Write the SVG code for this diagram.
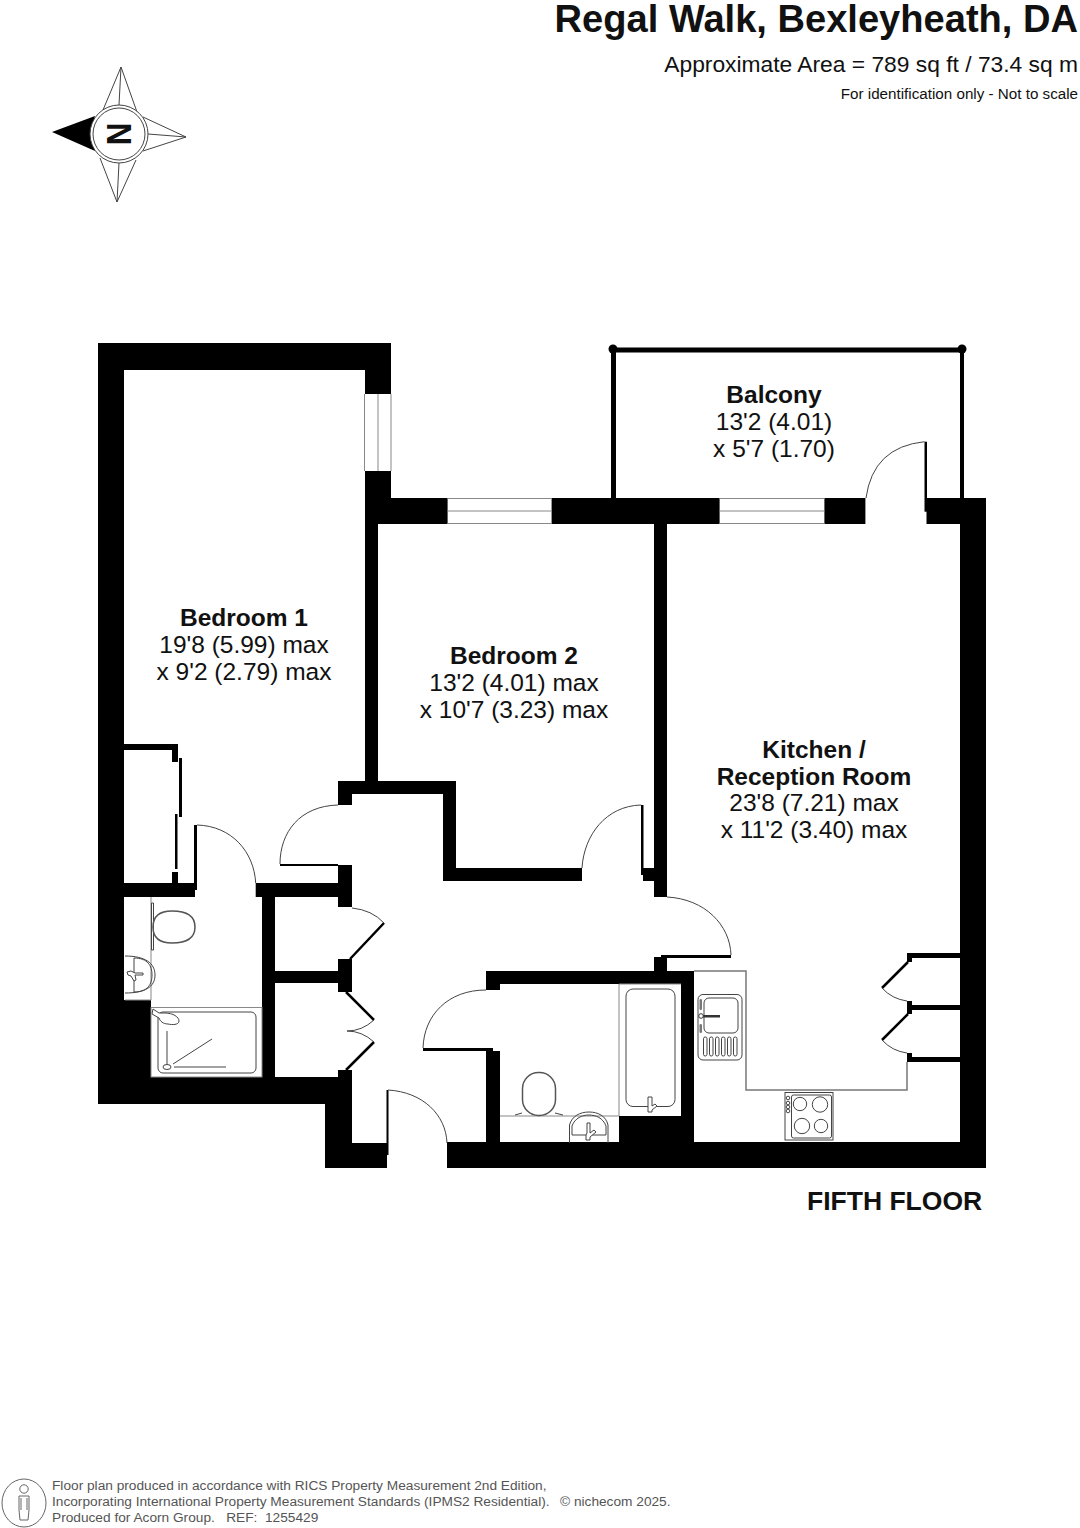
<svg xmlns="http://www.w3.org/2000/svg" width="1080" height="1528" viewBox="0 0 1080 1528">
<style>
.t{font-family:"Liberation Sans",Arial,sans-serif;fill:#111}
.b{font-weight:700}
.m{text-anchor:middle;font-size:24.500px}
.r{text-anchor:end}
.f{font-size:13.700px;fill:#555;white-space:pre}
.w{fill:#000}
.l{fill:none;stroke:#444;stroke-width:1}
.v{fill:none;stroke:#888;stroke-width:1}
.h{fill:none;stroke:#000;stroke-width:2.500}
.g{fill:none;stroke:#555;stroke-width:1.500}
.s{fill:#fff;stroke:#444;stroke-width:1}
</style>
<rect width="1080" height="1528" fill="#fff"/>
<g id="header">
<text class="t b r" x="1078" y="32" font-size="38.100">Regal Walk, Bexleyheath, DA</text>
<text class="t r" x="1078" y="72" font-size="22.800">Approximate Area = 789 sq ft / 73.4 sq m</text>
<text class="t r" x="1078" y="99" font-size="15.200">For identification only - Not to scale</text>
</g>
<g id="compass">
<path class="l" d="M103 110L121 67L137 112M143 117L186 137L143 151M136 160L117 202L100 158M121 67L119 105M186 137L148 134M117 202L119 163"/>
<path class="w" d="M52 132L95 116L90 134L95 151Z"/>
<circle cx="119" cy="134" r="29" fill="#fff" stroke="#444"/>
<circle cx="119" cy="134" r="26" fill="#fff" stroke="#444"/>
<text class="t b" text-anchor="middle" font-size="35" transform="translate(130.500 134) rotate(-90) scale(0.9 1)" x="0" y="0" fill="#000">N</text>
</g>
<g id="walls" class="w">
<rect x="98" y="343" width="293" height="27"/>
<rect x="98" y="343" width="26" height="761"/>
<rect x="365" y="343" width="26" height="51"/>
<rect x="365" y="471" width="26" height="53"/>
<rect x="365" y="498" width="82.600" height="26"/>
<rect x="551.600" y="498" width="168" height="26"/>
<rect x="824.400" y="498" width="41" height="26"/>
<rect x="926.500" y="498" width="59.500" height="26"/>
<rect x="960" y="498" width="26" height="670"/>
<rect x="447" y="1142" width="539" height="26"/>
<rect x="654" y="524" width="13" height="373"/>
<rect x="365" y="524" width="13" height="257"/>
<rect x="338" y="781" width="118" height="13"/>
<rect x="338" y="781" width="14" height="24"/>
<rect x="443" y="781" width="13" height="100"/>
<rect x="443" y="868" width="139" height="13"/>
<rect x="643" y="868" width="11" height="13"/>
<rect x="338" y="865" width="14" height="42"/>
<rect x="255.700" y="883" width="82.300" height="14"/>
<rect x="124" y="883" width="71" height="14"/>
<rect x="262" y="897" width="13" height="181"/>
<rect x="275" y="971" width="63" height="12"/>
<rect x="338" y="959" width="14" height="33"/>
<rect x="338" y="1070" width="14" height="35"/>
<rect x="98" y="1077" width="254" height="27"/>
<rect x="325" y="1100" width="27" height="68"/>
<rect x="325" y="1143" width="62" height="25"/>
<rect x="124" y="1000" width="27" height="77"/>
<rect x="486" y="971" width="208" height="13"/>
<rect x="654" y="957" width="13" height="14"/>
<rect x="486" y="984" width="14" height="6"/>
<rect x="486" y="1051" width="14" height="92"/>
<rect x="681" y="984" width="13" height="159"/>
<rect x="619" y="1116" width="62" height="27"/>
<rect x="124" y="744" width="54" height="6"/>
<rect x="172" y="750" width="6" height="12"/>
<rect x="172" y="872" width="6" height="11"/>
<rect x="907" y="953" width="53" height="5"/>
<rect x="907" y="953" width="5" height="9"/>
<rect x="907" y="1001" width="5" height="13"/>
<rect x="907" y="1005" width="53" height="5"/>
<rect x="907" y="1053" width="5" height="9"/>
<rect x="907" y="1057" width="53" height="5"/>
</g>
<g id="windows">
<path class="v" d="M364.500 394V471M378 394V471M391 394V471M447.600 498.500H551.600M447.600 511H551.600M447.600 523.500H551.600M719.600 498.500H824.400M719.600 511H824.400M719.600 523.500H824.400"/>
</g>
<g id="balcony">
<rect class="w" x="611" y="347.500" width="352" height="5"/>
<rect class="w" x="611" y="348" width="5" height="150"/>
<rect class="w" x="960" y="348" width="4" height="150"/>
<circle class="w" cx="613" cy="349" r="4.500"/>
<circle class="w" cx="962" cy="349" r="4.500"/>
</g>
<g id="doors">
<g class="w">
<rect x="924.500" y="441.700" width="2.500" height="70"/>
<rect x="194" y="825" width="3" height="65"/>
<rect x="280" y="864" width="58" height="2"/>
<rect x="641" y="805" width="2.500" height="70"/>
<rect x="667" y="955" width="64" height="3"/>
<rect x="661" y="955" width="6" height="5"/>
<rect x="423" y="1048" width="70" height="3"/>
<rect x="386.500" y="1090" width="2" height="65"/>
<rect x="179" y="758" width="3" height="59"/>
<rect x="175" y="814" width="2.500" height="55"/>
</g>
<path class="h" d="M384 923L350 959M346 992L374 1020M374 1042L346 1070M908 962L882 988M908 1014L882 1040"/>
<path class="l" d="M924.500 441.700Q873 447 866 498M197 825C232 826 254 852 255.700 883M338 805C300 806 280 832 280 864M641 805C606 806 584 835 582 868M667 897C705 899 730 925 731 955M486 990C448 990 424 1015 423 1048M388 1090C423 1092 446 1115 447 1143M352 908Q372 910 384 923M374 1020Q362 1031 347 1031Q362 1031 374 1042M882 988Q892 999 907 1001M882 1040Q892 1051 907 1053"/>
</g>
<g id="shower-room">
<path class="v" d="M151 897V1000M125 1000H151"/>
<path class="s" d="M151.500 903H153.500V950H151.500Z"/>
<path class="g" d="M153 927C153 916 160 911 172 911C186 911 195 916 195 927C195 938 186 943 172 943C160 943 153 938 153 927Z"/>
<path class="l" d="M125 956C145 956 155 963 155 975C155 987 145 993 125 993M134 958C148 958 152 966 152 975C152 984 148 992 134 992Z"/>
<path class="s" d="M127 972L131 971L135 973L143 973V975L135 975L136 980L134 981L131 976L128 975Z"/>
<rect x="151" y="1007.500" width="111" height="69.500" class="v"/>
<rect x="158" y="1012" width="98" height="61" rx="5" class="l"/>
<path class="s" d="M153 1009L159 1013L165 1013C173 1013 179 1017 179 1021C179 1025 172 1025 168 1024C163 1024 160 1021 159 1018L152 1014Z"/>
<path class="l" d="M167 1031V1064M173 1064L212 1039M174 1067H226"/>
<ellipse class="l" cx="167" cy="1067" rx="4" ry="2.500"/>
</g>
<g id="bathroom">
<path class="v" d="M500 1116H619M619 984V1116M619 984H681"/>
<rect x="626" y="989" width="49" height="117.500" rx="7" class="l"/>
<path class="s" d="M648 1097H652V1106L655 1104L657 1106L652 1110V1112H648L648 1107Z"/>
<rect class="g" x="522.500" y="1072.500" width="33" height="43" rx="16"/>
<path class="l" d="M515 1115L522 1113M555 1113L563 1115"/>
<path class="l" d="M569.500 1143V1125C572 1116 580 1112 589 1112C598 1112 606 1116 608 1125V1143"/>
<path class="l" d="M572 1135V1126C575 1118 582 1115 589 1115C596 1115 603 1118 606 1126V1135H572"/>
<path class="s" d="M587 1123H590V1133L594 1130L596 1132L590 1137V1140H586L586 1135L587 1133Z"/>
</g>
<g id="kitchen">
<path class="g" style="stroke:#777" d="M694 971H746V1090H907V1062"/>
<rect x="698" y="994.500" width="44" height="65.500" rx="5" class="l"/>
<rect x="704" y="998" width="34" height="35" rx="5" class="l"/>
<rect x="699.500" y="999" width="2.500" height="11" rx="1.200" fill="#777"/>
<rect x="699.500" y="1024" width="2.500" height="9" rx="1.200" fill="#777"/>
<rect x="703" y="1015" width="17" height="2.500" fill="#333"/>
<circle cx="701" cy="1016" r="2.300" fill="#fff" stroke="#333"/>
<g class="l">
<rect x="703.500" y="1037" width="3.500" height="19" rx="1.700"/>
<rect x="709.500" y="1037" width="3.500" height="19" rx="1.700"/>
<rect x="715.500" y="1037" width="3.500" height="19" rx="1.700"/>
<rect x="721.500" y="1037" width="3.500" height="19" rx="1.700"/>
<rect x="727.500" y="1037" width="3.500" height="19" rx="1.700"/>
<rect x="733.500" y="1037" width="3.500" height="19" rx="1.700"/>
</g>
<rect x="785" y="1092.500" width="48" height="47.500" class="l"/>
<rect x="791.500" y="1095" width="40" height="43" rx="2" class="l"/>
<g class="l">
<circle cx="800" cy="1104" r="6.700"/>
<circle cx="820" cy="1104.500" r="7.700"/>
<circle cx="802" cy="1126" r="7.700"/>
<circle cx="821" cy="1126" r="6.700"/>
<circle cx="788" cy="1098" r="1.800"/>
<circle cx="788" cy="1103" r="1.800"/>
<circle cx="788" cy="1107" r="1.800"/>
<circle cx="788" cy="1111" r="1.800"/>
</g>
</g>
<g id="labels">
<text class="t m" x="774" y="403"><tspan class="b">Balcony</tspan><tspan x="774" dy="26.500">13'2 (4.01)</tspan><tspan x="774" dy="27">x 5'7 (1.70)</tspan></text>
<text class="t m" x="244" y="626"><tspan class="b">Bedroom 1</tspan><tspan x="244" dy="26.500">19'8 (5.99) max</tspan><tspan x="244" dy="27">x 9'2 (2.79) max</tspan></text>
<text class="t m" x="514" y="664"><tspan class="b">Bedroom 2</tspan><tspan x="514" dy="26.500">13'2 (4.01) max</tspan><tspan x="514" dy="27">x 10'7 (3.23) max</tspan></text>
<text class="t m" x="814" y="758"><tspan class="b">Kitchen /</tspan><tspan class="b" x="814" dy="26.500">Reception Room</tspan><tspan x="814" dy="26.500">23'8 (7.21) max</tspan><tspan x="814" dy="27">x 11'2 (3.40) max</tspan></text>
<text class="t b" x="807" y="1210" font-size="26.500" fill="#000">FIFTH FLOOR</text>
</g>
<g id="footer">
<ellipse cx="24" cy="1503" rx="22" ry="24" fill="none" stroke="#666"/>
<circle cx="24" cy="1489" r="4.200" fill="none" stroke="#666"/>
<path fill="none" stroke="#666" d="M19 1496H29V1510L28 1520H20L19 1510ZM21 1498V1510M27 1498V1510"/>
<text class="t f" x="52" y="1490">Floor plan produced in accordance with RICS Property Measurement 2nd Edition,</text>
<text class="t f" x="52" y="1506">Incorporating International Property Measurement Standards (IPMS2 Residential).</text>
<text class="t f" x="52" y="1522">Produced for Acorn Group.   REF:  1255429</text>
<text class="t f" x="560" y="1506">© nichecom 2025.</text>
</g>
</svg>
